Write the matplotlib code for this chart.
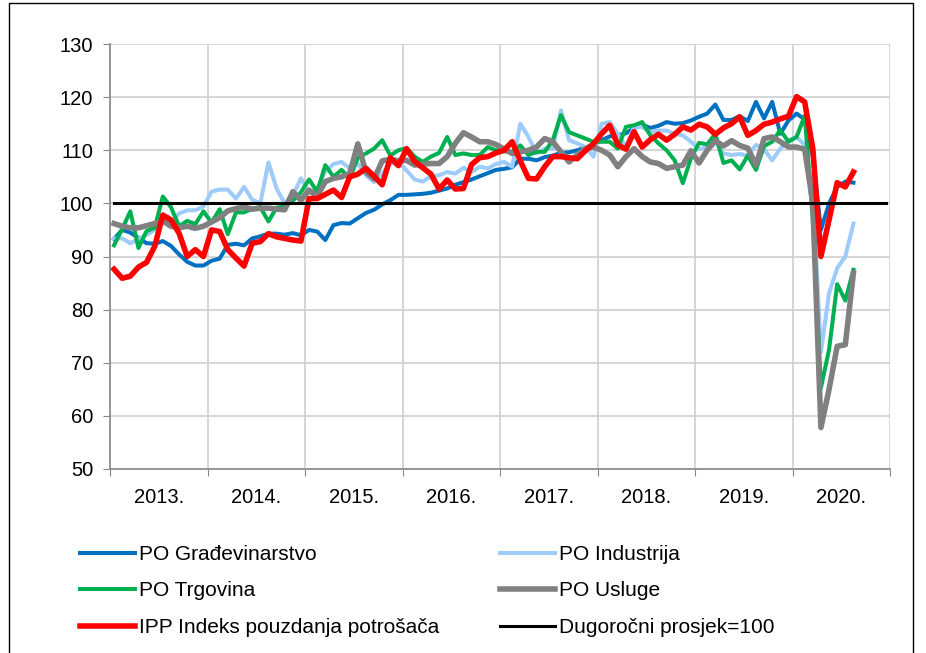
import numpy as np
import matplotlib
matplotlib.use("Agg")
import matplotlib.pyplot as plt
from matplotlib.patches import Rectangle

plt.rcParams['font.family'] = ['Liberation Sans', 'DejaVu Sans']

# monthly values, Jan 2013 .. Aug 2020
years = ['2013.', '2014.', '2015.', '2016.', '2017.', '2018.', '2019.', '2020.']

po_gradjevinarstvo = [
    93.3, 95.0, 94.5, 93.5, 92.5, 92.4, 92.9, 92.0, 90.4, 89.0, 88.3, 88.3,
    89.2, 89.6, 92.2, 92.4, 92.1, 93.4, 93.8, 94.3, 94.3, 94.1, 94.4, 94.0,
    95.0, 94.7, 93.1, 95.9, 96.3, 96.2, 97.2, 98.2, 98.8, 99.8, 100.6, 101.6,
    101.6, 101.7, 101.8, 102.0, 102.4, 102.8, 103.5, 104.0, 104.5, 105.1, 105.7, 106.3,
    106.5, 106.8, 108.4, 108.4, 108.1, 108.7, 109.0, 109.5, 109.6, 110.0, 110.5, 111.1,
    111.9, 112.6, 112.8, 113.2, 114.2, 114.8, 114.2, 114.6, 115.3, 115.0, 115.1, 115.6,
    116.3, 116.9, 118.6, 115.7, 115.7, 116.4, 115.5, 119.1, 116.0, 119.1, 113.1, 115.6,
    116.9, 115.8, 108.8, 95.0, 100.0, 103.1, 104.1, 103.9,
]

po_industrija = [
    93.4, 93.4, 92.5, 93.3, 94.1, 95.0, 96.6, 96.3, 98.1, 98.7, 98.7, 99.4,
    102.2, 102.6, 102.6, 100.9, 103.1, 100.7, 100.0, 107.7, 102.8, 100.0, 101.5, 104.7,
    102.0, 102.8, 106.0, 107.4, 107.8, 106.6, 107.5, 105.3, 104.0, 105.6, 107.5, 107.8,
    106.2, 104.5, 104.1, 105.1, 105.3, 105.9, 105.6, 106.7, 105.9, 106.9, 106.6, 107.4,
    107.8, 106.9, 115.0, 112.5, 109.4, 110.3, 110.3, 117.5, 111.9, 111.3, 110.6, 108.8,
    115.0, 115.3, 113.1, 110.6, 114.4, 114.4, 113.4, 113.7, 113.7, 113.1, 112.8, 111.6,
    110.2, 110.6, 111.6, 109.4, 109.1, 109.3, 109.0, 111.0, 110.2, 108.1, 110.3, 111.9,
    112.5, 111.0, 102.5, 72.0, 83.1, 87.8, 90.0, 96.2,
]

po_trgovina = [
    92.1, 95.2, 98.5, 91.6, 94.8, 95.4, 101.3, 99.3, 95.7, 96.7, 96.1, 98.5,
    96.4, 98.9, 94.2, 98.3, 98.3, 99.0, 99.3, 96.6, 99.2, 99.4, 100.5, 102.1,
    104.5, 102.2, 107.2, 105.0, 106.3, 104.7, 108.6, 109.4, 110.3, 111.9, 109.0, 110.0,
    110.4, 108.8, 107.8, 108.8, 109.5, 112.5, 109.1, 109.4, 109.1, 109.1, 110.6, 110.0,
    109.8, 109.7, 110.9, 109.1, 109.7, 109.7, 111.9, 116.6, 113.4, 112.8, 112.2, 111.6,
    111.6, 111.6, 110.3, 114.4, 114.7, 115.3, 112.8, 111.3, 110.0, 108.1, 103.8, 108.5,
    111.4, 111.1, 113.1, 107.6, 108.1, 106.4, 109.0, 106.3, 110.8, 111.6, 113.8, 111.6,
    112.5, 116.5, 97.0, 65.3, 72.5, 84.8, 81.7, 87.5,
]

po_usluge = [
    96.2, 95.7, 95.4, 95.4, 95.8, 96.2, 96.7, 95.7, 95.4, 95.7, 95.3, 95.7,
    96.5, 97.3, 98.6, 99.0, 99.3, 98.9, 99.1, 99.1, 98.9, 98.8, 102.2, 100.6,
    102.5, 101.3, 104.1, 104.7, 105.0, 105.6, 111.2, 105.9, 104.6, 108.0, 108.3, 108.0,
    108.1, 107.2, 107.4, 107.5, 107.5, 108.8, 111.3, 113.3, 112.5, 111.6, 111.6, 111.1,
    110.2, 109.4, 109.7, 110.0, 110.6, 112.2, 111.6, 109.7, 107.8, 109.1, 110.3, 110.6,
    110.0, 109.1, 106.9, 108.8, 110.3, 108.8, 107.8, 107.5, 106.6, 106.9, 107.2, 109.9,
    107.6, 110.0, 111.8, 110.8, 111.8, 110.9, 110.4, 107.2, 112.2, 112.5, 111.6, 110.6,
    110.6, 110.2, 100.0, 57.8, 65.0, 73.1, 73.4, 86.9,
]

ipp = [
    87.6, 85.9, 86.3, 88.0, 88.9, 91.9, 97.8, 96.9, 94.4, 90.0, 91.3, 90.0,
    95.0, 94.7, 91.3, 89.7, 88.2, 92.5, 92.8, 94.3, 93.7, 93.4, 93.1, 92.9,
    100.9, 100.9, 101.7, 102.5, 101.1, 105.0, 105.5, 106.6, 105.1, 103.5, 108.6, 107.1,
    110.3, 107.9, 106.7, 105.5, 102.7, 104.4, 102.7, 102.8, 107.3, 108.6, 108.8, 109.5,
    110.0, 111.6, 108.0, 104.7, 104.6, 106.9, 108.8, 108.8, 108.6, 108.4, 109.9, 111.2,
    113.1, 114.7, 111.0, 110.2, 113.5, 110.6, 112.0, 113.0, 111.9, 113.0, 114.4, 113.8,
    114.9, 114.4, 113.0, 114.2, 115.0, 116.3, 112.8, 113.7, 114.9, 115.3, 115.9, 116.4,
    120.1, 119.1, 110.3, 90.0, 96.9, 103.9, 103.1, 105.9,
]

# long-term average, one value per month of the category axis (2013-2020)
prosjek = [100] * 96

fig = plt.figure(figsize=(9.26, 6.53), dpi=100)
ax = fig.add_axes([110 / 926, 1 - 469 / 653, 780 / 926, 425 / 653])

x_data = np.arange(len(ipp)) + 0.5
x_avg = np.arange(len(prosjek)) + 0.5

l1, = ax.plot(x_data, po_gradjevinarstvo, color='#0070C0', lw=2.9, label='PO Građevinarstvo')
l2, = ax.plot(x_data, po_industrija, color='#9DCBFA', lw=2.9, label='PO Industrija')
l3, = ax.plot(x_data, po_trgovina, color='#00B050', lw=2.9, label='PO Trgovina')
l4, = ax.plot(x_data, po_usluge, color='#808080', lw=4.0, label='PO Usluge')
l5, = ax.plot(x_data, ipp, color='#FF0000', lw=4.0, label='IPP Indeks pouzdanja potrošača')
l6, = ax.plot(x_avg, prosjek, color='black', lw=2.2, label='Dugoročni prosjek=100')

ax.set_xlim(0, 96)
ax.set_ylim(50, 130)
ax.set_yticks(np.arange(50, 131, 10))
ax.set_xticks(np.arange(0, 97, 12))
ax.set_xticklabels([])
ax.set_xticks(np.arange(6, 96, 12), minor=True)
ax.set_xticklabels(years, minor=True)
ax.tick_params(axis='x', which='minor', length=0, pad=14, labelsize=14.5)
ax.tick_params(axis='x', which='major', length=5, color='#888888')
ax.tick_params(axis='y', length=5, color='#888888', pad=7, labelsize=14.5)

ax.grid(True, which='major', color='#D0D0D0', lw=1.2)
ax.set_axisbelow(True)
for s in ['top', 'right']:
    ax.spines[s].set_visible(False)
for s in ['left', 'bottom']:
    ax.spines[s].set_color('#888888')
    ax.spines[s].set_linewidth(1.2)

leg_kw = dict(ncol=1, frameon=False, fontsize=15, handlelength=2.65,
              handletextpad=0.19, labelspacing=0.85, borderpad=0, borderaxespad=0,
              loc='center left', bbox_transform=fig.transFigure)
leg1 = ax.legend([l1, l3, l5], [l1.get_label(), l3.get_label(), l5.get_label()],
                 bbox_to_anchor=(80 / 926, 1 - 591 / 653), **leg_kw)
ax.add_artist(leg1)
ax.legend([l2, l4, l6], [l2.get_label(), l4.get_label(), l6.get_label()],
          bbox_to_anchor=(500 / 926, 1 - 591 / 653), **leg_kw)

# outer chart border
fig.patches.append(Rectangle((9 / 926, -0.1), 904 / 926, 1.1 - 3 / 653,
                             transform=fig.transFigure, fill=False,
                             edgecolor='black', lw=1.0))

fig.savefig('out.png', dpi=100)
